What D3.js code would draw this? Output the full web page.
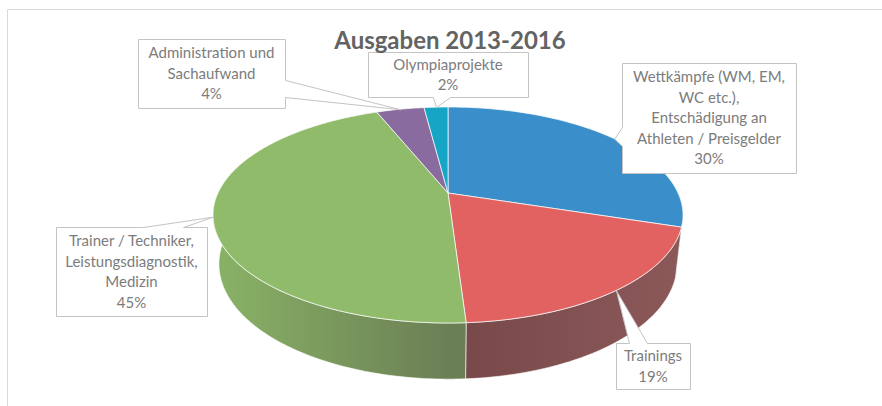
<!DOCTYPE html>
<html>
<head>
<meta charset="utf-8">
<script src="https://cdn.jsdelivr.net/npm/d3@7"></script>
<style>
  body { margin: 0; background: #fff; }
  svg { display: block; }
  .titel { font-family: Lato, "Open Sans", sans-serif; font-weight: bold; fill: #636363; }
  .oznaka { font-family: Lato, "Open Sans", sans-serif; fill: #7c7c7c; }
</style>
</head>
<body>
<div id="okvir"></div>
<script>
// podaci
const kategorije = ["Wettkämpfe", "Trainings", "Trainer", "Administration", "Olympiaprojekte"]
const vrijednosti = [30, 19, 45, 4, 2]
const redoviOznaka = [
  ["Wettkämpfe (WM, EM,", "WC etc.),", "Entschädigung an", "Athleten / Preisgelder"],
  ["Trainings"],
  ["Trainer / Techniker,", "Leistungsdiagnostik,", "Medizin"],
  ["Administration und", "Sachaufwand"],
  ["Olympiaprojekte"],
]
const naslov = "Ausgaben 2013-2016"

// boje
const bojeVrh = ["#3a8fca", "#e26261", "#8fbb6b", "#8a6b9f", "#17a5c6"]
const bojeStrana = [
  ["#3a7aa8", "#2f6a93"],
  ["#774849", "#8c5959"],
  ["#8ab366", "#6b7f55"],
  ["#70587f", "#5f4a6d"],
  ["#14839d", "#106f86"],
]

// raspored kutija s oznakama
const kutije = [
  { x: 622, y: 63, w: 174, h: 110, strana: "left", t0: 127, t1: 146 },
  { x: 616, y: 343, w: 74, h: 46, strana: "top", t0: 629, t1: 647 },
  { x: 56, y: 227, w: 151, h: 89, strana: "top", t0: 143, t1: 183 },
  { x: 138, y: 39, w: 147, h: 69, strana: "right", t0: 80, t1: 97 },
  { x: 368, y: 52, w: 160, h: 45, strana: "bottom", t0: 433, t1: 450 },
]

const dimenzije = { sirina: 882, visina: 406 }

// perspektiva (3D pita)
const kamera = { cx: 448, cy: 193, D: 4.386, F: 1009, sinE: 0.45, cosE: 0.893, debljina: 0.24 }

function projekcija(kut, z) {
  const X = Math.sin(kut)
  const Y = Math.cos(kut)
  const d = kamera.D + Y * kamera.cosE - z * kamera.sinE
  const v = Y * kamera.sinE + z * kamera.cosE
  return [kamera.cx + kamera.F * X / d, kamera.cy - kamera.F * v / d]
}

function luk(a0, a1, z) {
  const n = Math.max(2, Math.ceil(Math.abs(a1 - a0) / (Math.PI / 180)))
  return d3.range(n + 1).map(i => projekcija(a0 + (a1 - a0) * i / n, z))
}

const linija = d3.line()

const okvir = d3.select("#okvir")
  .append("svg")
  .attr("width", dimenzije.sirina)
  .attr("height", dimenzije.visina)

// okvir grafikona
okvir.append("path")
  .attr("d", `M7.5,${dimenzije.visina} V9.5 H${dimenzije.sirina}`)
  .attr("fill", "none")
  .attr("stroke", "#d9d9d9")

const pita = d3.pie().sort(null).value(d => d)
const isjecci = pita(vrijednosti)
const ukupno = d3.sum(vrijednosti)
const formatP = d3.format(".0%")

const defs = okvir.append("defs")
isjecci.forEach((d, i) => {
  const g = defs.append("linearGradient")
    .attr("id", `strana-${i}`)
    .attr("gradientUnits", "userSpaceOnUse")
    .attr("x1", i === 2 ? 213 : 448).attr("x2", i === 2 ? 448 : 684)
    .attr("y1", 0).attr("y2", 0)
  g.append("stop").attr("offset", "0%").attr("stop-color", bojeStrana[i][0])
  g.append("stop").attr("offset", "100%").attr("stop-color", bojeStrana[i][1])
})

const pitaGrupa = okvir.append("g")

// bočne strane (samo prednja polovina)
isjecci.forEach((d, i) => {
  const a0 = Math.max(d.startAngle, Math.PI / 2)
  const a1 = Math.min(d.endAngle, Math.PI * 1.5)
  if (a1 <= a0) return
  const tocke = luk(a0, a1, 0).concat(luk(a1, a0, -kamera.debljina))
  pitaGrupa.append("path")
    .attr("d", linija(tocke) + "Z")
    .attr("fill", `url(#strana-${i})`)
    .attr("stroke", "rgba(255,255,255,0.6)")
    .attr("stroke-width", 1)
})

// gornje plohe
isjecci.forEach((d, i) => {
  const sredina = [kamera.cx, kamera.cy]
  const put = [sredina].concat(luk(d.startAngle, d.endAngle, 0))
  pitaGrupa.append("path")
    .attr("d", linija(put) + "Z")
    .attr("fill", bojeVrh[i])
    .attr("stroke", "rgba(255,255,255,0.7)")
    .attr("stroke-width", 1)
    .attr("stroke-linejoin", "round")
})

// oznake s pokazivačem
function oblikKutije(k, vrh) {
  const { x, y, w, h, t0, t1 } = k
  const [vx, vy] = vrh
  if (k.strana === "left")
    return `M${x},${y} H${x + w} V${y + h} H${x} V${t1} L${vx},${vy} L${x},${t0} Z`
  if (k.strana === "right")
    return `M${x},${y} H${x + w} V${t0} L${vx},${vy} L${x + w},${t1} V${y + h} H${x} Z`
  if (k.strana === "top")
    return `M${x},${y} H${t0} L${vx},${vy} L${t1},${y} H${x + w} V${y + h} H${x} Z`
  return `M${x},${y} H${x + w} V${y + h} H${t1} L${vx},${vy} L${t0},${y + h} H${x} Z`
}

const visinaReda = 20.5
const oznake = okvir.append("g")
isjecci.forEach((d, i) => {
  const k = kutije[i]
  const vrh = projekcija((d.startAngle + d.endAngle) / 2, 0)
  oznake.append("path")
    .attr("d", oblikKutije(k, vrh))
    .attr("fill", "#fff")
    .attr("stroke", "#c4c4c4")
    .attr("stroke-width", 1)
    .attr("transform", "translate(0.5,0.5)")

  const redovi = redoviOznaka[i].concat([formatP(d.value / ukupno)])
  const pocetak = k.y + k.h / 2 - (redovi.length - 1) * visinaReda / 2
  const tekst = oznake.append("text")
    .attr("class", "oznaka")
    .attr("text-anchor", "middle")
    .attr("font-size", 15)
  redovi.forEach((r, j) => {
    tekst.append("tspan")
      .attr("x", k.x + k.w / 2)
      .attr("y", pocetak + j * visinaReda)
      .attr("dy", "0.35em")
      .text(r)
  })
})

// naslov
okvir.append("text")
  .attr("class", "titel")
  .attr("x", 450)
  .attr("y", 49)
  .attr("text-anchor", "middle")
  .attr("font-size", 24)
  .text(naslov)
</script>
</body>
</html>
